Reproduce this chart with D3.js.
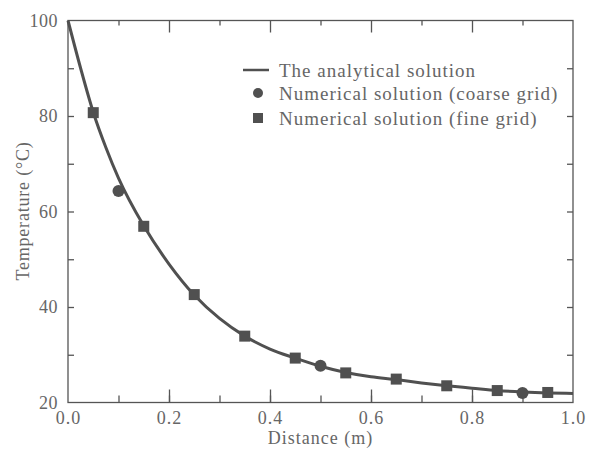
<!DOCTYPE html>
<html>
<head>
<meta charset="utf-8">
<script src="https://cdn.jsdelivr.net/npm/d3@7"></script>
<style>
  body { margin: 0; background: #fff; }
  text { font-family: "Liberation Serif", "DejaVu Serif", serif; fill: #666; }
  .axis path, .axis line { stroke: #555; stroke-width: 1.3; }
</style>
</head>
<body>
<div id="chart"></div>
<script>
// values
var xTicks = [0, 0.2, 0.4, 0.6, 0.8, 1.0];
var xMinorTicks = [0.1, 0.2, 0.3, 0.4, 0.5, 0.6, 0.7, 0.8, 0.9];
var yTicks = [20, 40, 60, 80, 100];
var yMinorTicks = [30, 40, 50, 60, 70, 80, 90];

// analytical curve (distance, temperature)
var curveX = [0, 0.025, 0.05, 0.075, 0.1, 0.15, 0.2, 0.25, 0.3, 0.35, 0.4, 0.45, 0.5, 0.55, 0.6, 0.65, 0.7, 0.75, 0.8, 0.85, 0.9, 0.95, 1.0];
var curveT = [100, 90, 80.8, 73.4, 67, 57, 49, 42.5, 37.6, 33.9, 31.2, 29.3, 27.6, 26.3, 25.4, 24.8, 24.1, 23.5, 23.0, 22.5, 22.2, 22.0, 21.9];

// coarse grid (circles)
var coarseX = [0.1, 0.5, 0.9];
var coarseT = [64.3, 27.7, 22.0];

// fine grid (squares)
var fineX = [0.05, 0.15, 0.25, 0.35, 0.45, 0.55, 0.65, 0.75, 0.85, 0.95];
var fineT = [80.7, 56.9, 42.6, 33.9, 29.3, 26.2, 24.9, 23.5, 22.5, 22.1];

var legendLabels = ["The analytical solution", "Numerical solution (coarse grid)", "Numerical solution (fine grid)"];

var W = 593, H = 455;
var ink = "#505050";

var svg = d3.select("#chart").append("svg")
    .attr("width", W)
    .attr("height", H);

var xScale = d3.scaleLinear().domain([0, 1]).range([68, 573]);
var yScale = d3.scaleLinear().domain([20, 100]).range([402.5, 20.5]);

// frame
svg.append("rect")
    .attr("x", xScale(0)).attr("y", yScale(100))
    .attr("width", xScale(1) - xScale(0))
    .attr("height", yScale(20) - yScale(100))
    .attr("fill", "none").attr("stroke", "#555").attr("stroke-width", 1.3);

// bottom axis: minor + major ticks pointing inward
svg.append("g")
    .attr("class", "axis")
    .attr("transform", "translate(0," + yScale(20) + ")")
    .call(d3.axisBottom(xScale).tickValues(xMinorTicks).tickSize(-7).tickFormat(""))
    .call(function(g) { g.select(".domain").remove(); });

svg.append("g")
    .attr("class", "axis")
    .attr("transform", "translate(0," + yScale(20) + ")")
    .call(d3.axisBottom(xScale).tickValues(xTicks).tickSize(-13).tickPadding(9).tickFormat(d3.format(".1f")))
    .call(function(g) {
      g.select(".domain").remove();
      g.selectAll(".tick text").attr("font-size", 18).attr("letter-spacing", 1).attr("fill", "#666");
      g.selectAll(".tick line").filter(function(d) { return d == 0 || d == 1; }).remove();
    });

// top axis
svg.append("g")
    .attr("class", "axis")
    .attr("transform", "translate(0," + yScale(100) + ")")
    .call(d3.axisTop(xScale).tickValues([0.1, 0.3, 0.5, 0.7, 0.9]).tickSize(-5).tickFormat(""))
    .call(function(g) { g.select(".domain").remove(); });
svg.append("g")
    .attr("class", "axis")
    .attr("transform", "translate(0," + yScale(100) + ")")
    .call(d3.axisTop(xScale).tickValues([0.2, 0.4, 0.6, 0.8]).tickSize(-12).tickFormat(""))
    .call(function(g) { g.select(".domain").remove(); });

// left axis
svg.append("g")
    .attr("class", "axis")
    .attr("transform", "translate(" + xScale(0) + ",0)")
    .call(d3.axisLeft(yScale).tickValues(yMinorTicks).tickSize(-6).tickFormat(""))
    .call(function(g) { g.select(".domain").remove(); });
svg.append("g")
    .attr("class", "axis")
    .attr("transform", "translate(" + xScale(0) + ",0)")
    .call(d3.axisLeft(yScale).tickValues(yTicks).tickSize(0).tickPadding(10).tickFormat(d3.format("d")))
    .call(function(g) {
      g.select(".domain").remove();
      g.selectAll(".tick text").attr("font-size", 18).attr("letter-spacing", 0.5).attr("fill", "#666");
    });

// right axis
svg.append("g")
    .attr("class", "axis")
    .attr("transform", "translate(" + xScale(1) + ",0)")
    .call(d3.axisRight(yScale).tickValues(yMinorTicks).tickSize(-6).tickFormat(""))
    .call(function(g) { g.select(".domain").remove(); });

// axis titles
svg.append("text")
    .attr("x", (xScale(0) + xScale(1)) / 2)
    .attr("y", 444)
    .attr("text-anchor", "middle")
    .attr("font-size", 18)
    .attr("letter-spacing", 1)
    .text("Distance (m)");

svg.append("text")
    .attr("transform", "translate(29,211) rotate(-90)")
    .attr("text-anchor", "middle")
    .attr("font-size", 18)
    .attr("letter-spacing", 0.8)
    .text("Temperature (\u00B0C)");

// analytical curve
var curveData = curveX.map(function(d, i) { return [d, curveT[i]]; });
var line = d3.line()
    .x(function(d) { return xScale(d[0]); })
    .y(function(d) { return yScale(d[1]); })
    .curve(d3.curveMonotoneX);

svg.append("path")
    .datum(curveData)
    .attr("d", line)
    .attr("fill", "none")
    .attr("stroke", ink)
    .attr("stroke-width", 3);

// coarse grid circles
svg.selectAll(".coarse")
    .data(coarseX.map(function(d, i) { return [d, coarseT[i]]; }))
    .enter().append("circle")
    .attr("class", "coarse")
    .attr("cx", function(d) { return xScale(d[0]); })
    .attr("cy", function(d) { return yScale(d[1]); })
    .attr("r", 6)
    .attr("fill", ink);

// fine grid squares
var sq = 11;
svg.selectAll(".fine")
    .data(fineX.map(function(d, i) { return [d, fineT[i]]; }))
    .enter().append("rect")
    .attr("class", "fine")
    .attr("x", function(d) { return xScale(d[0]) - sq / 2; })
    .attr("y", function(d) { return yScale(d[1]) - sq / 2; })
    .attr("width", sq)
    .attr("height", sq)
    .attr("fill", ink);

// legend
var legend = svg.append("g").attr("transform", "translate(243,70)");
var rowY = [0, 23, 48];

legend.append("line")
    .attr("x1", 0).attr("x2", 26)
    .attr("y1", rowY[0]).attr("y2", rowY[0])
    .attr("stroke", ink).attr("stroke-width", 2.5);
legend.append("circle")
    .attr("cx", 15).attr("cy", rowY[1]).attr("r", 5).attr("fill", ink);
legend.append("rect")
    .attr("x", 10).attr("y", rowY[2] - 5).attr("width", 10).attr("height", 10).attr("fill", ink);

legend.selectAll(".legend-label")
    .data(legendLabels)
    .enter().append("text")
    .attr("class", "legend-label")
    .attr("x", 36)
    .attr("y", function(d, i) { return rowY[i]; })
    .attr("dy", "0.35em")
    .attr("font-size", 19)
    .attr("letter-spacing", 1)
    .text(function(d) { return d; });
</script>
</body>
</html>
